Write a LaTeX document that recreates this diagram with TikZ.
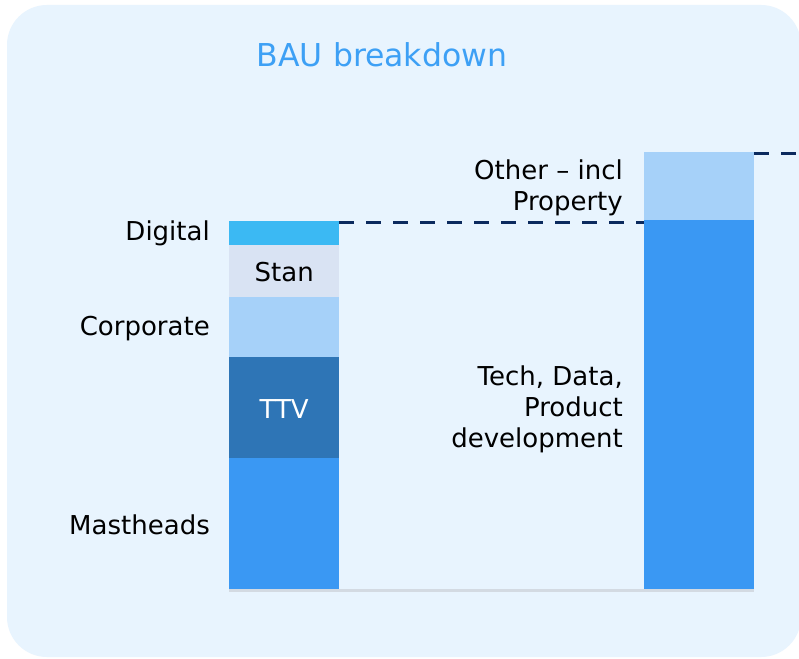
\documentclass[tikz,border=0pt]{standalone}
\usepackage{fontspec}
\setmainfont{DejaVu Sans}
\usetikzlibrary{positioning}

\definecolor{panelbg}{HTML}{E8F4FE}
\definecolor{titleblue}{HTML}{3DA0F5}
\definecolor{digitalc}{HTML}{3BB9F3}
\definecolor{stanc}{HTML}{D9E3F3}
\definecolor{corpc}{HTML}{A6D1F9}
\definecolor{ttvc}{HTML}{2E75B6}
\definecolor{mastc}{HTML}{3A98F3}
\definecolor{navy}{HTML}{0B2A5E}
\definecolor{axisgray}{HTML}{D3DAE2}

\tikzset{
    seg/.style={rectangle, fill=#1, minimum width=110pt, inner sep=0pt, anchor=north west},
    lbl/.style={font=\fontsize{26}{31}\selectfont, inner sep=0pt, align=right},
    link/.style={navy, line width=3pt, dash pattern=on 15pt off 12pt}
}

\begin{document}
\begin{tikzpicture}[x=1pt, y=-1pt]
        \useasboundingbox (0,0) rectangle (799,658);
        \fill[white] (0,0) rectangle (799,658);
        \fill[panelbg, rounded corners=40pt] (7,5) rectangle (801,657);
        \node[text=titleblue, font=\fontsize{31.5}{36}\selectfont] (Title) at (382,55) {BAU breakdown};

        % left bar
        \node[seg=digitalc, minimum height=24pt] (Digital) at (229,221) {};
        \node[seg=stanc, minimum height=52pt] (Stan) at (229,245) {};
        \node[seg=corpc, minimum height=60pt] (Corporate) at (229,297) {};
        \node[seg=ttvc, minimum height=101pt] (TTV) at (229,357) {};
        \node[seg=mastc, minimum height=132pt] (Mastheads) at (229,458) {};

        % right bar
        \node[seg=corpc, minimum height=68pt] (Other) at (644,152) {};
        \node[seg=mastc, minimum height=370pt] (Tech) at (644,220) {};

        \draw[axisgray, line width=3pt] (Mastheads.south west) -- (Tech.south east);

        % labels
        \node[lbl, anchor=east] (DigitalLbl) at (210,233) {Digital};
        \node[lbl] (StanLbl) at ([yshift=-1pt] Stan.center) {Stan};
        \node[lbl, anchor=east] (CorpLbl) at (210,329) {Corporate};
        \node[lbl, text=white] (TTVLbl) at ([yshift=-1pt] TTV.center) {TTV};
        \node[lbl, anchor=east] (MastLbl) at (210,525) {Mastheads};
        \node[lbl, anchor=east] (OtherLbl) at (623,188) {Other – incl\\Property};
        \node[lbl, anchor=east] (TechLbl) at (623,409) {Tech, Data,\\Product\\development};

        \coordinate (EdgeRight) at (801,153);
        \draw[link] ([yshift=-1pt] Digital.north east) -- ([yshift=-2pt] Tech.north west);
        \draw[link] ([yshift=-1pt] Other.north east) -- (EdgeRight);
    \end{tikzpicture}
\end{document}
